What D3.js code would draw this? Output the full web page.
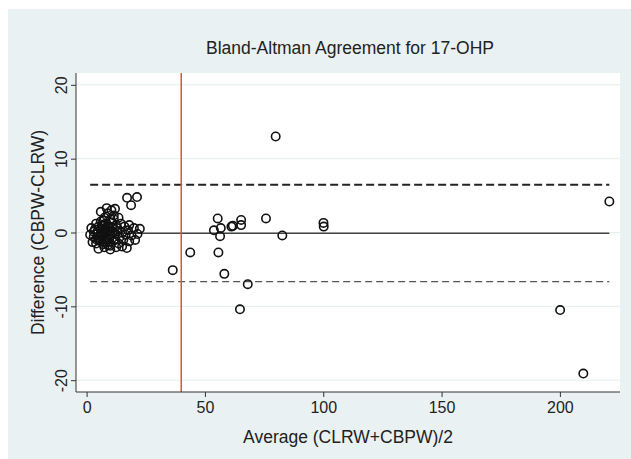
<!DOCTYPE html>
<html><head><meta charset="utf-8">
<script src="https://cdn.jsdelivr.net/npm/d3@7"></script>
<style>body{margin:0;background:#fff;}svg{display:block;font-family:"Liberation Sans",Arial,Helvetica,sans-serif;}</style>
</head><body>
<script>
const title = "Bland-Altman Agreement for 17-OHP";
const xLabel = "Average (CLRW+CBPW)/2";
const yLabel = "Difference (CBPW-CLRW)";
const xTicks = [0, 50, 100, 150, 200];
const yTicks = [-20, -10, 0, 10, 20];
// averages and differences
const avgValues = [
  17.1, 21.3, 18.8,
  8.5, 10.5, 12.0, 9.0, 11.5, 7.5, 13.5, 10.0, 6.0,
  4.0, 6.0, 8.0, 12.5, 14.5, 16.0, 18.0, 20.0,
  2.0, 3.5, 5.0, 7.0, 9.0, 11.0, 13.0, 15.0, 17.5, 22.5,
  1.5, 3.0, 4.5, 6.5, 8.0, 10.0, 12.0, 14.0, 16.5, 19.0, 21.5,
  2.5, 4.0, 5.5, 7.0, 9.5, 11.5, 13.5, 15.5, 18.0, 20.5,
  5.0, 7.5, 10.0, 12.5, 15.0, 17.0,
  4.5, 5.5, 6.5, 7.5, 8.5, 9.5, 10.5, 6.0, 7.0, 8.0, 9.0, 10.0, 11.0, 5.0,
  6.5, 7.5, 8.5, 9.5, 6.0, 8.0, 10.0, 3.0, 4.0, 11.5, 12.0, 13.0, 9.0, 7.0,
  36.4, 43.8, 55.4, 53.8, 56.7, 56.4, 55.7, 58.2, 61.2, 61.8, 65.3, 65.3, 64.8, 68.1,
  75.8, 79.9, 82.7, 100.1, 100.2, 200.1, 209.9, 220.9
];
const diffValues = [
  4.7, 4.8, 3.7,
  3.3, 3.0, 3.2, 2.6, 2.3, 2.0, 2.0, 1.8, 2.8,
  1.2, 1.5, 1.2, 1.0, 1.2, 0.8, 1.0, 0.6,
  0.6, 0.4, 0.8, 0.5, 0.3, 0.6, 0.2, 0.0, 0.3, 0.5,
  -0.3, -0.6, -0.2, -0.4, -0.8, -0.5, -0.2, -0.6, -0.3, -0.4, -0.2,
  -1.3, -1.5, -1.0, -1.6, -1.3, -1.1, -1.5, -1.0, -1.2, -1.0,
  -2.2, -2.0, -2.3, -2.0, -1.9, -2.1,
  0.1, -0.7, 0.9, -1.2, 0.0, -0.9, 1.4, -0.1, 1.0, -1.4, 0.8, -1.8, 0.1, -0.9,
  -0.5, 0.3, -1.0, 0.7, 0.4, 0.6, 0.2, 0.1, -0.9, 1.8, -0.9, 0.6, -1.7, 1.6,
  -5.1, -2.7, 1.9, 0.3, 0.6, -0.5, -2.7, -5.6, 0.8, 0.9, 1.7, 1.0, -10.4, -7.0,
  1.9, 13.0, -0.4, 1.3, 0.8, -10.5, -19.1, 4.2
];
const meanDiff = -0.1;
const upperLimit = 6.45;
const lowerLimit = -6.65;
const cutoff = 40;

const W = 631, H = 459;
const plot = {left: 76, right: 620, top: 73, bottom: 392};
const svg = d3.select("body").append("svg").attr("width", W).attr("height", H);
svg.append("rect").attr("x", 8).attr("y", 9).attr("width", W - 8).attr("height", H - 9).attr("fill", "#eaf1f3");
svg.append("rect").attr("x", plot.left).attr("y", plot.top).attr("width", plot.right - plot.left).attr("height", plot.bottom - plot.top).attr("fill", "#fff");

const x = d3.scaleLinear().domain([-4.48, 225.4]).range([plot.left, plot.right]);
const y = d3.scaleLinear().domain([-21.6, 21.6]).range([plot.bottom, plot.top]);

// gridlines
svg.append("g").selectAll("line").data(yTicks).join("line")
  .attr("x1", plot.left).attr("x2", plot.right)
  .attr("y1", d => y(d)).attr("y2", d => y(d))
  .attr("stroke", "#e3eef0").attr("stroke-width", 1);

const xmin = d3.min(avgValues), xmax = d3.max(avgValues);
// limit lines
svg.append("line").attr("x1", x(xmin)).attr("x2", x(xmax)).attr("y1", y(upperLimit)).attr("y2", y(upperLimit))
  .attr("stroke", "#222").attr("stroke-width", 2).attr("stroke-dasharray", "8,4");
svg.append("line").attr("x1", x(xmin)).attr("x2", x(xmax)).attr("y1", y(lowerLimit)).attr("y2", y(lowerLimit))
  .attr("stroke", "#555").attr("stroke-width", 1.3).attr("stroke-dasharray", "7,4");
svg.append("line").attr("x1", x(xmin)).attr("x2", x(xmax)).attr("y1", y(meanDiff)).attr("y2", y(meanDiff))
  .attr("stroke", "#444").attr("stroke-width", 1.5);
// cutoff
svg.append("line").attr("x1", x(cutoff)).attr("x2", x(cutoff)).attr("y1", plot.top).attr("y2", plot.bottom)
  .attr("stroke", "#e0503c").attr("stroke-width", 1.5);

// points
svg.append("g").selectAll("circle").data(avgValues.map((a, i) => [a, diffValues[i]])).join("circle")
  .attr("cx", d => x(d[0])).attr("cy", d => y(d[1])).attr("r", 4.2)
  .attr("fill", "none").attr("stroke", "#111").attr("stroke-width", 1.6);

// axes
const fmt = d => String(d);
const xAxis = svg.append("g").attr("transform", `translate(0,${plot.bottom})`)
  .call(d3.axisBottom(x).tickValues(xTicks).tickFormat(fmt).tickSize(5).tickPadding(5));
xAxis.select(".domain").attr("d", `M${plot.left},0H${plot.right}`);
const yAxis = svg.append("g").attr("transform", `translate(${plot.left},0)`)
  .call(d3.axisLeft(y).tickValues(yTicks).tickFormat(fmt).tickSize(5));
yAxis.select(".domain").attr("d", `M0,${plot.top}V${plot.bottom}`);
[xAxis, yAxis].forEach(g => {
  g.select(".domain").attr("stroke", "#333");
  g.selectAll(".tick line").attr("stroke", "#333");
  g.selectAll("text").attr("fill", "#222").style("font-size", "16px").style("font-family", "'Liberation Sans',Arial,sans-serif");
});
yAxis.selectAll(".tick text")
  .attr("transform", "rotate(-90)")
  .attr("x", 0).attr("y", -9).attr("dy", 0).attr("text-anchor", "middle");

svg.append("text").attr("x", (plot.left + plot.right) / 2 + 2).attr("y", 54).attr("text-anchor", "middle")
  .style("font-size", "17.5px").attr("fill", "#222").text(title);
svg.append("text").attr("x", (plot.left + plot.right) / 2).attr("y", 443).attr("text-anchor", "middle")
  .style("font-size", "17.5px").attr("fill", "#222").text(xLabel);
svg.append("text").attr("transform", `translate(44,${(plot.top + plot.bottom) / 2}) rotate(-90)`).attr("text-anchor", "middle")
  .style("font-size", "17.5px").attr("fill", "#222").text(yLabel);
</script>
</body></html>
